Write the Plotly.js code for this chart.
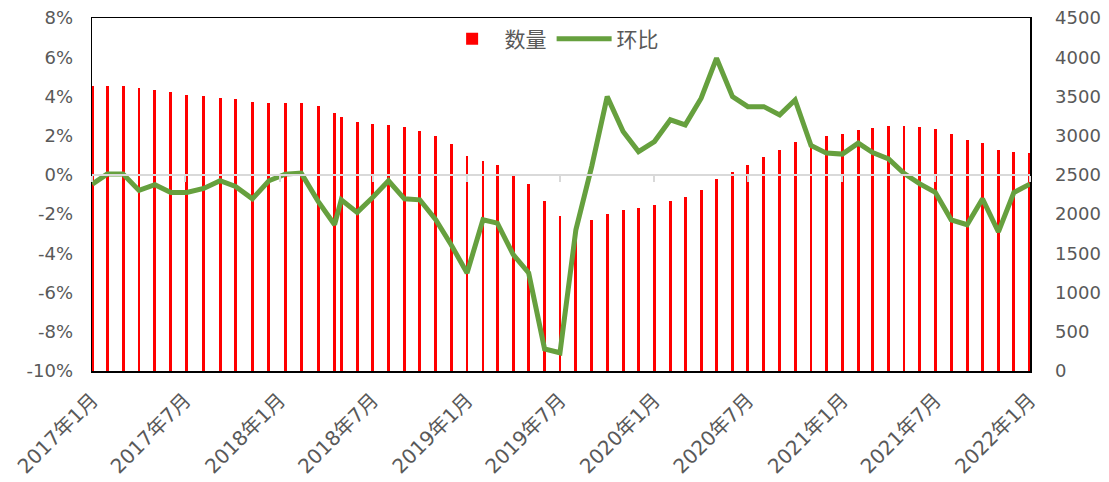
<!DOCTYPE html>
<html>
<head>
<meta charset="utf-8">
<script src="https://cdn.plot.ly/plotly-3.0.1.min.js"></script>
<style>html,body{margin:0;padding:0;background:#fff;}#chart{width:1109px;height:482px;}</style>
</head>
<body>
<div id="chart"></div>
<script>
const dates = [
  '2017-01-01','2017-01-30','2017-03-02','2017-04-02','2017-05-03','2017-06-03','2017-07-04','2017-08-06',
  '2017-09-07','2017-10-07','2017-11-09','2017-12-11','2018-01-12','2018-02-12','2018-03-17','2018-04-18',
  '2018-05-01','2018-06-01','2018-07-01','2018-08-01','2018-09-01','2018-10-01','2018-11-01','2018-12-01',
  '2019-01-01','2019-02-01','2019-03-01','2019-04-01','2019-05-01','2019-06-01','2019-07-01','2019-08-01',
  '2019-09-01','2019-10-01','2019-11-01','2019-12-01','2020-01-01','2020-02-01','2020-03-01','2020-04-01',
  '2020-05-01','2020-06-01','2020-07-01','2020-08-01','2020-09-01','2020-10-01','2020-11-01','2020-12-01',
  '2021-01-01','2021-02-01','2021-03-01','2021-04-01','2021-05-01','2021-06-01','2021-07-01','2021-08-01',
  '2021-09-01','2021-10-01','2021-11-01','2021-12-01','2022-01-01'
];
// 数量 (right axis)
const quantity = [
  3634,3634,3634,3605,3583,3554,3523,3503,3485,3465,3427,3418,3422,3418,3376,3287,
  3243,3180,3150,3142,3108,3061,2998,2892,2743,2680,2629,2489,2387,2170,1979,1790,
  1929,2005,2047,2081,2111,2166,2221,2306,2446,2543,2632,2727,2811,2918,2890,2998,
  3023,3070,3104,3129,3129,3116,3091,3017,2943,2905,2823,2794,2777
];
// 环比 (left axis, %)
const mom = [
  -0.47,0.04,0.04,-0.79,-0.50,-0.90,-0.90,-0.69,-0.30,-0.59,-1.22,-0.30,0.04,0.09,-1.35,-2.54,
  -1.27,-1.91,-1.15,-0.30,-1.22,-1.27,-2.29,-3.56,-5.00,-2.29,-2.46,-4.07,-5.00,-8.87,-9.07,-2.80,
  0.45,3.99,2.21,1.19,1.70,2.81,2.55,3.91,5.95,3.99,3.48,3.48,3.06,3.82,1.50,1.11,
  1.06,1.62,1.14,0.82,0.08,-0.46,-0.89,-2.29,-2.54,-1.22,-2.91,-0.90,-0.47
];
// X tick labels
const xTickVals = ['2017-01-01','2017-07-01','2018-01-01','2018-07-01','2019-01-01','2019-07-01',
  '2020-01-01','2020-07-01','2021-01-01','2021-07-01','2022-01-01'];
const xTickText = ['2017年1月','2017年7月','2018年1月','2018年7月','2019年1月','2019年7月',
  '2020年1月','2020年7月','2021年1月','2021年7月','2022年1月'];
// Left axis ticks (%)
const pctTicks = [-10,-8,-6,-4,-2,0,2,4,6,8];
const pctTickText = pctTicks.map(v => v + '%');
// Right axis ticks
const qtyTicks = [0,500,1000,1500,2000,2500,3000,3500,4000,4500];

const pctRange = [-10, 8];
const qtyRange = [0, 4500];
const xRange = ['2016-12-31 12:00', '2022-01-01 12:00'];

const FONT = 'DejaVu Sans, Noto Sans CJK SC, sans-serif';
const GREY = '#595959';

const traces = [
  {
    type: 'bar', name: '数量', x: dates, y: quantity,
    xaxis: 'x', yaxis: 'y',
    marker: {color: '#FF0000', line: {width: 0}},
    width: 5.6 * 86400000
  },
  {
    type: 'scatter', mode: 'lines', name: '环比', x: dates, y: mom,
    xaxis: 'x2', yaxis: 'y2',
    line: {color: '#66A03E', width: 5}
  }
];

const layout = {
  width: 1109, height: 482,
  margin: {l: 92, r: 79, t: 18, b: 111, pad: 0},
  paper_bgcolor: '#fff', plot_bgcolor: '#fff',
  font: {family: FONT, color: GREY, size: 18},
  showlegend: true,
  legend: {
    orientation: 'h', x: 0.49, y: 0.94, xanchor: 'center', yanchor: 'middle',
    font: {family: FONT, size: 21, color: GREY}, bgcolor: 'rgba(0,0,0,0)',
    itemwidth: 55
  },
  bargap: 0,
  xaxis: {
    type: 'date', range: xRange,
    tickvals: xTickVals, ticktext: xTickText, tickangle: -45,
    tickfont: {family: FONT, size: 20, color: GREY},
    showgrid: false, zeroline: false,
    showline: true, mirror: true, linecolor: '#000', linewidth: 1.5,
    ticks: '', ticklabelstandoff: 8
  },
  xaxis2: {
    type: 'date', range: xRange, overlaying: 'x', anchor: 'free',
    position: (0 - pctRange[0]) / (pctRange[1] - pctRange[0]),
    showticklabels: false, showgrid: false, zeroline: false,
    showline: true, linecolor: '#D9D9D9', linewidth: 2,
    tickvals: xTickVals, ticks: 'outside', ticklen: 6, tickwidth: 2, tickcolor: '#D9D9D9'
  },
  yaxis: {
    range: qtyRange, side: 'right',
    tickvals: qtyTicks, ticktext: qtyTicks.map(String),
    tickfont: {family: FONT, size: 18, color: GREY},
    showgrid: false, zeroline: false,
    showline: true, mirror: true, linecolor: '#000', linewidth: 1.5,
    ticks: '', ticklabelstandoff: 20
  },
  yaxis2: {
    range: pctRange, side: 'left', overlaying: 'y',
    tickvals: pctTicks, ticktext: pctTickText,
    tickfont: {family: FONT, size: 18, color: GREY},
    showgrid: false, zeroline: false, showline: false,
    ticks: '', ticklabelstandoff: 18
  }
};

Plotly.newPlot('chart', traces, layout, {displayModeBar: false, staticPlot: true});
</script>
</body>
</html>
